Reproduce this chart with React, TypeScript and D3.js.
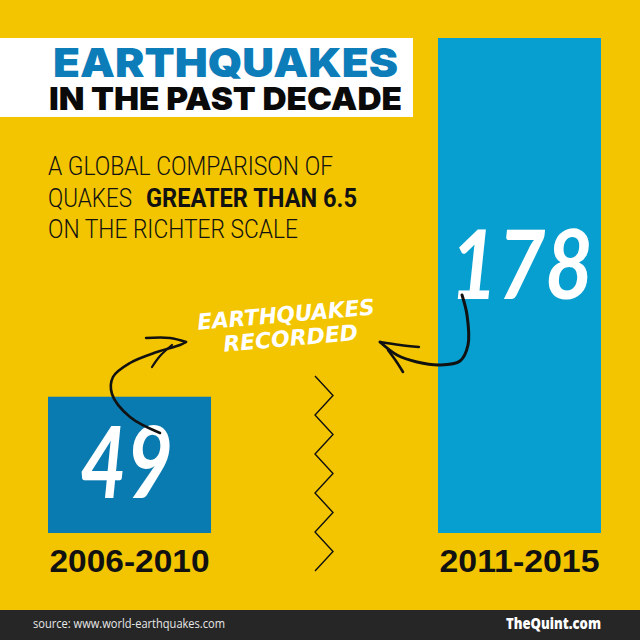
import React, { useEffect, useRef } from 'react';
import * as d3 from 'd3';

// chart data
const periods = ['2006-2010', '2011-2015'];
const quakeCounts = [49, 178];
const barColors = ['#0a7bb1', '#079fcf'];

const titleLines = ['EARTHQUAKES', 'IN THE PAST DECADE'];
const subtitleLines = ['A GLOBAL COMPARISON OF', 'QUAKES', 'GREATER THAN 6.5', 'ON THE RICHTER SCALE'];
const calloutLines = ['EARTHQUAKES', 'RECORDED'];
const sourceText = 'source: www.world-earthquakes.com';
const brandText = 'TheQuint.com';

const App: React.FC = () => {
  const svgRef = useRef<SVGSVGElement>(null);

  useEffect(() => {
    document.body.style.margin = '0';
    if (!svgRef.current) return;
    const svg = d3.select(svgRef.current);
    svg.selectAll('*').remove();

    const W = 640;
    const H = 640;
    const baseline = 533;

    // background
    svg.append('rect').attr('width', W).attr('height', H).attr('fill', '#f2c500');

    const x = d3.scaleBand()
      .domain(periods)
      .range([48, 601])
      .paddingInner(0.582)
      .paddingOuter(0);

    const y = d3.scaleLinear()
      .domain([0, d3.max(quakeCounts) || 0])
      .range([baseline, 38]);

    const data = periods.map((p, i) => ({ period: p, count: quakeCounts[i], color: barColors[i] }));

    // bars
    svg.selectAll('.bar')
      .data(data)
      .enter().append('rect')
      .attr('class', 'bar')
      .attr('x', d => x(d.period) || 0)
      .attr('y', d => y(d.count))
      .attr('width', x.bandwidth())
      .attr('height', d => baseline - y(d.count))
      .attr('fill', d => d.color);

    // period labels
    svg.selectAll('.period')
      .data(data)
      .enter().append('text')
      .attr('class', 'period')
      .attr('x', d => (x(d.period) || 0) + x.bandwidth() / 2)
      .attr('y', 572)
      .attr('text-anchor', 'middle')
      .attr('textLength', 160)
      .attr('lengthAdjust', 'spacingAndGlyphs')
      .style('font-family', "'Liberation Sans', Arial, sans-serif")
      .style('font-size', '31px')
      .style('font-weight', 'bold')
      .attr('fill', '#111')
      .text(d => d.period);

    // big hand-written values
    const valuePos = [
      { x: 80, y: 498, size: 100, len: 93 },
      { x: 450, y: 299, size: 96, len: 143 },
    ];
    svg.selectAll('.value')
      .data(data)
      .enter().append('text')
      .attr('class', 'value')
      .attr('x', (_, i) => valuePos[i].x)
      .attr('y', (_, i) => valuePos[i].y)
      .attr('textLength', (_, i) => valuePos[i].len)
      .attr('lengthAdjust', 'spacingAndGlyphs')
      .style('font-family', "Lato, 'Open Sans', sans-serif")
      .style('font-size', (_, i) => `${valuePos[i].size}px`)
      .style('font-style', 'italic')
      .style('font-weight', 'bold')
      .attr('fill', '#fff')
      .text(d => d.count);

    // title box
    svg.append('rect').attr('x', 0).attr('y', 38).attr('width', 413).attr('height', 79).attr('fill', '#fff');
    svg.append('text')
      .attr('x', 53).attr('y', 77)
      .attr('textLength', 345).attr('lengthAdjust', 'spacingAndGlyphs')
      .style('font-family', "Inter, 'DejaVu Sans', sans-serif")
      .style('font-size', '40px').style('font-weight', 900)
      .attr('fill', '#0c7db9')
      .text(titleLines[0]);
    svg.append('text')
      .attr('x', 49).attr('y', 110)
      .attr('textLength', 353).attr('lengthAdjust', 'spacingAndGlyphs')
      .style('font-family', "Inter, 'DejaVu Sans', sans-serif")
      .style('font-size', '32px').style('font-weight', 900)
      .attr('fill', '#0a0a0a')
      .text(titleLines[1]);

    // subtitle
    const sub = [
      { t: subtitleLines[0], x: 48, y: 175, len: 285, w: 300 },
      { t: subtitleLines[1], x: 48, y: 207, len: 84, w: 300 },
      { t: subtitleLines[2], x: 146, y: 207, len: 211, w: 'bold' },
      { t: subtitleLines[3], x: 48, y: 238, len: 250, w: 300 },
    ];
    svg.selectAll('.sub')
      .data(sub)
      .enter().append('text')
      .attr('class', 'sub')
      .attr('x', d => d.x).attr('y', d => d.y)
      .attr('textLength', d => d.len).attr('lengthAdjust', 'spacingAndGlyphs')
      .style('font-family', "'Liberation Sans Narrow', Roboto, sans-serif")
      .style('font-size', '26px')
      .style('font-weight', d => String(d.w))
      .attr('fill', '#111')
      .text(d => d.t);

    // callout text
    const callout = svg.append('g').attr('transform', 'rotate(-5, 288, 326)');
    callout.append('text')
      .attr('x', 198).attr('y', 322)
      .attr('textLength', 178).attr('lengthAdjust', 'spacingAndGlyphs')
      .style('font-family', "'DejaVu Sans', sans-serif")
      .style('font-size', '22px').style('font-weight', 'bold').style('font-style', 'italic')
      .attr('fill', '#fff')
      .text(calloutLines[0]);
    callout.append('text')
      .attr('x', 222).attr('y', 346)
      .attr('textLength', 135).attr('lengthAdjust', 'spacingAndGlyphs')
      .style('font-family', "'DejaVu Sans', sans-serif")
      .style('font-size', '22px').style('font-weight', 'bold').style('font-style', 'italic')
      .attr('fill', '#fff')
      .text(calloutLines[1]);

    // hand-drawn arrows
    const line = d3.line<[number, number]>().curve(d3.curveCatmullRom.alpha(0.5));
    const arrowStyle = (p: d3.Selection<SVGPathElement, unknown, null, undefined>, w: number) =>
      p.attr('fill', 'none').attr('stroke', '#111').attr('stroke-width', w).attr('stroke-linecap', 'round');

    const leftArrow: [number, number][] = [[160, 433], [130, 417], [112, 394], [113, 377], [130, 363], [157, 352], [180, 345], [186, 342]];
    arrowStyle(svg.append('path').attr('d', line(leftArrow)), 2.6);
    arrowStyle(svg.append('path').attr('d', line([[186, 342], [170, 338], [146, 338]])), 2.4);
    arrowStyle(svg.append('path').attr('d', line([[172, 345], [160, 356], [152, 367]])), 2.2);

    const rightArrow: [number, number][] = [[462, 295], [467, 315], [468, 345], [460, 361], [440, 365], [417, 362], [397, 355], [380, 342]];
    arrowStyle(svg.append('path').attr('d', line(rightArrow)), 3);
    arrowStyle(svg.append('path').attr('d', line([[380, 342], [400, 345], [419, 347]])), 2.4);
    arrowStyle(svg.append('path').attr('d', line([[388, 350], [396, 361], [403, 372]])), 2.6);

    // zigzag break marker
    const zig: [number, number][] = d3.range(11).map(i => [i % 2 === 0 ? 315 : 333, 376 + i * 19.5]);
    svg.append('path')
      .attr('d', d3.line()(zig))
      .attr('fill', 'none').attr('stroke', '#111').attr('stroke-width', 1.4);

    // footer
    svg.append('rect').attr('x', 0).attr('y', 610).attr('width', W).attr('height', 30).attr('fill', '#262626');
    svg.append('text')
      .attr('x', 33).attr('y', 628)
      .attr('textLength', 192).attr('lengthAdjust', 'spacingAndGlyphs')
      .style('font-family', "'Open Sans', sans-serif")
      .style('font-size', '13px')
      .attr('fill', '#e8e8e8')
      .text(sourceText);
    svg.append('text')
      .attr('x', 506).attr('y', 629)
      .attr('textLength', 95).attr('lengthAdjust', 'spacingAndGlyphs')
      .style('font-family', "'Open Sans', sans-serif")
      .style('font-size', '15px').style('font-weight', 800)
      .attr('fill', '#fff')
      .text(brandText);
  }, []);

  return (
    <svg
      ref={svgRef}
      width={640}
      height={640}
      style={{ display: 'block', position: 'absolute', left: 0, top: 0 }}
    ></svg>
  );
};

export default App;
